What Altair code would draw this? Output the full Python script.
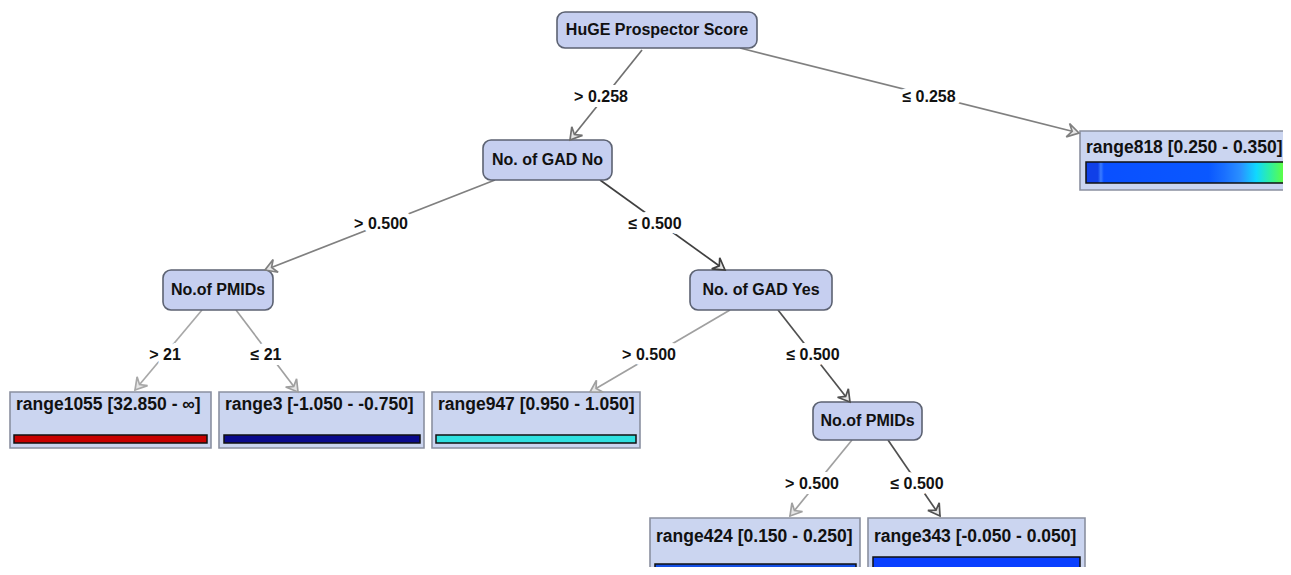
import math
import altair as alt
import pandas as pd

# ---------------- data ----------------
# decision (inner) nodes
node_labels = ["HuGE Prospector Score", "No. of GAD No", "No.of PMIDs", "No. of GAD Yes", "No.of PMIDs"]
node_x0 = [557, 483, 163, 690, 813]
node_x1 = [757, 612, 273, 832, 922]
node_y0 = [12, 140, 270, 270, 402]
node_y1 = [48, 180, 310, 310, 440]

# leaf nodes
leaf_labels = ["range818 [0.250 - 0.350]", "range1055 [32.850 - \u221e]", "range3 [-1.050 - -0.750]",
               "range947 [0.950 - 1.050]", "range424 [0.150 - 0.250]", "range343 [-0.050 - 0.050]"]
leaf_x0 = [1080, 10, 219, 432, 650, 868]
leaf_x1 = [1305, 211, 424, 640, 860, 1085]
leaf_y0 = [131, 392, 392, 392, 518, 518]
leaf_y1 = [190, 448, 448, 448, 580, 580]
leaf_text_y = [148, 405, 405, 405, 537, 537]
bar_x0 = [1086, 14, 224, 436, 655, 873]
bar_x1 = [1284, 207, 420, 636, 856, 1080]
bar_y0 = [162, 435, 435, 435, 564, 557]
bar_y1 = [183, 443, 443, 443, 573, 573]
bar_colors = ["#0a50ff", "#c80000", "#0a0a8c", "#30e0e0", "#1450e6", "#0a40ff"]

# edges
edge_x0 = [642, 740, 495, 600, 202, 236, 730, 778, 852, 888]
edge_y0 = [50, 48, 180, 180, 310, 310, 310, 310, 440, 440]
edge_x1 = [570, 1079, 265, 725, 135, 298, 590, 850, 790, 940]
edge_y1 = [140, 133, 270, 270, 390, 392, 392, 402, 516, 516]
edge_labels = ["> 0.258", "\u2264 0.258", "> 0.500", "\u2264 0.500", "> 21", "\u2264 21",
               "> 0.500", "\u2264 0.500", "> 0.500", "\u2264 0.500"]
label_x = [601, 929, 381, 655, 165, 266, 649, 813, 812, 917]
label_y = [97, 97, 224, 224, 355, 355, 355, 355, 484, 484]
edge_colors = ["#707070", "#808080", "#808080", "#404040", "#a8a8a8", "#a0a0a0",
               "#a0a0a0", "#505050", "#a0a0a0", "#505050"]

# ---------------- tables ----------------
nodes = pd.DataFrame({"label": node_labels, "x0": node_x0, "x1": node_x1, "y0": node_y0, "y1": node_y1})
nodes["cx"] = (nodes.x0 + nodes.x1) / 2
nodes["cy"] = (nodes.y0 + nodes.y1) / 2

leaves = pd.DataFrame({"label": leaf_labels, "x0": leaf_x0, "x1": leaf_x1, "y0": leaf_y0, "y1": leaf_y1,
                       "ty": leaf_text_y, "bx0": bar_x0, "bx1": bar_x1, "by0": bar_y0, "by1": bar_y1,
                       "bc": bar_colors})
leaves["tx"] = leaves.x0 + 6

angles = []
for a, b, c, d in zip(edge_x0, edge_y0, edge_x1, edge_y1):
    angles.append(math.degrees(math.atan2(c - a, -(d - b))) % 360)
edges = pd.DataFrame({"x0": edge_x0, "y0": edge_y0, "x1": edge_x1, "y1": edge_y1,
                      "label": edge_labels, "lx": label_x, "ly": label_y,
                      "col": edge_colors, "angle": angles})

# ---------------- scales ----------------
W, H = 1275, 559
xs = alt.Scale(domain=[8, 8 + W], nice=False, zero=False)
ys = alt.Scale(domain=[8, 8 + H], nice=False, zero=False, reverse=True)
noax = None

def X(f):
    return alt.X(f, type="quantitative", scale=xs, axis=noax)

def Y(f):
    return alt.Y(f, type="quantitative", scale=ys, axis=noax)

FONT = "Liberation Sans"

edge_lines = alt.Chart(edges).mark_rule(strokeWidth=1.7, clip=True).encode(
    x=X("x0"), y=Y("y0"), x2="x1", y2="y1",
    color=alt.Color("col:N", scale=None),
)

arrow_path = "M 0 0 L -0.6 1 L 0 0.62 L 0.6 1 Z"
arrows = alt.Chart(edges).mark_point(shape=arrow_path, size=520, filled=False,
                                     strokeWidth=1.7, fill="#e6e6e6", fillOpacity=1, opacity=1,
                                     clip=True).encode(
    x=X("x1"), y=Y("y1"),
    angle=alt.Angle("angle:Q", scale=None),
    stroke=alt.Stroke("col:N", scale=None),
)

label_halo = alt.Chart(edges).mark_text(font=FONT, fontSize=16, fontWeight="bold",
                                        stroke="white", strokeWidth=10, color="white",
                                        baseline="middle").encode(
    x=X("lx"), y=Y("ly"), text="label:N")
label_text = alt.Chart(edges).mark_text(font=FONT, fontSize=16, fontWeight="bold",
                                        color="#111111", baseline="middle").encode(
    x=X("lx"), y=Y("ly"), text="label:N")

node_boxes = alt.Chart(nodes).mark_rect(cornerRadius=8, fill="#c6cff0", stroke="#5c6272",
                                        strokeWidth=1.6).encode(
    x=X("x0"), x2="x1", y=Y("y0"), y2="y1")
node_text = alt.Chart(nodes).mark_text(font=FONT, fontSize=16, fontWeight="bold",
                                       color="#111111", baseline="middle").encode(
    x=X("cx"), y=Y("cy"), text="label:N")

leaf_boxes = alt.Chart(leaves).mark_rect(fill="#cbd5f0", stroke="#8a90a0", strokeWidth=1.6,
                                         clip=True).encode(
    x=X("x0"), x2="x1", y=Y("y0"), y2="y1")
leaf_text = alt.Chart(leaves).mark_text(font=FONT, fontSize=17.5, fontWeight="bold", align="left",
                                        color="#111111", baseline="middle", clip=True).encode(
    x=X("tx"), y=Y("ty"), text="label:N")

plain_bars = alt.Chart(leaves.iloc[1:]).mark_rect(stroke="#111111", strokeWidth=1.5,
                                                  clip=True).encode(
    x=X("bx0"), x2="bx1", y=Y("by0"), y2="by1",
    fill=alt.Fill("bc:N", scale=None))

grad = alt.Gradient(
    gradient="linear", x1=0, x2=1, y1=0, y2=0,
    stops=[
        alt.GradientStop(offset=0.0, color="#1040e8"),
        alt.GradientStop(offset=0.06, color="#1040e8"),
        alt.GradientStop(offset=0.075, color="#3a7cff"),
        alt.GradientStop(offset=0.09, color="#0a50ff"),
        alt.GradientStop(offset=0.62, color="#0a58ff"),
        alt.GradientStop(offset=0.70, color="#1a70ff"),
        alt.GradientStop(offset=0.78, color="#2a90ff"),
        alt.GradientStop(offset=0.86, color="#10d8ff"),
        alt.GradientStop(offset=0.93, color="#30f0a0"),
        alt.GradientStop(offset=1.0, color="#60ff40"),
    ],
)
grad_bar = alt.Chart(leaves.iloc[:1]).mark_rect(stroke="#111111", strokeWidth=1.5, fill=grad,
                                                clip=True).encode(
    x=X("bx0"), x2="bx1", y=Y("by0"), y2="by1")

chart = alt.layer(
    edge_lines, label_halo, label_text, leaf_boxes, plain_bars, grad_bar, leaf_text,
    node_boxes, node_text, arrows,
).properties(
    width=W, height=H, padding=0, autosize=alt.AutoSizeParams(type="none"),
    background="white",
).configure_view(stroke=None)

chart.save("out.html", embed_options={"renderer": "svg", "actions": False})
